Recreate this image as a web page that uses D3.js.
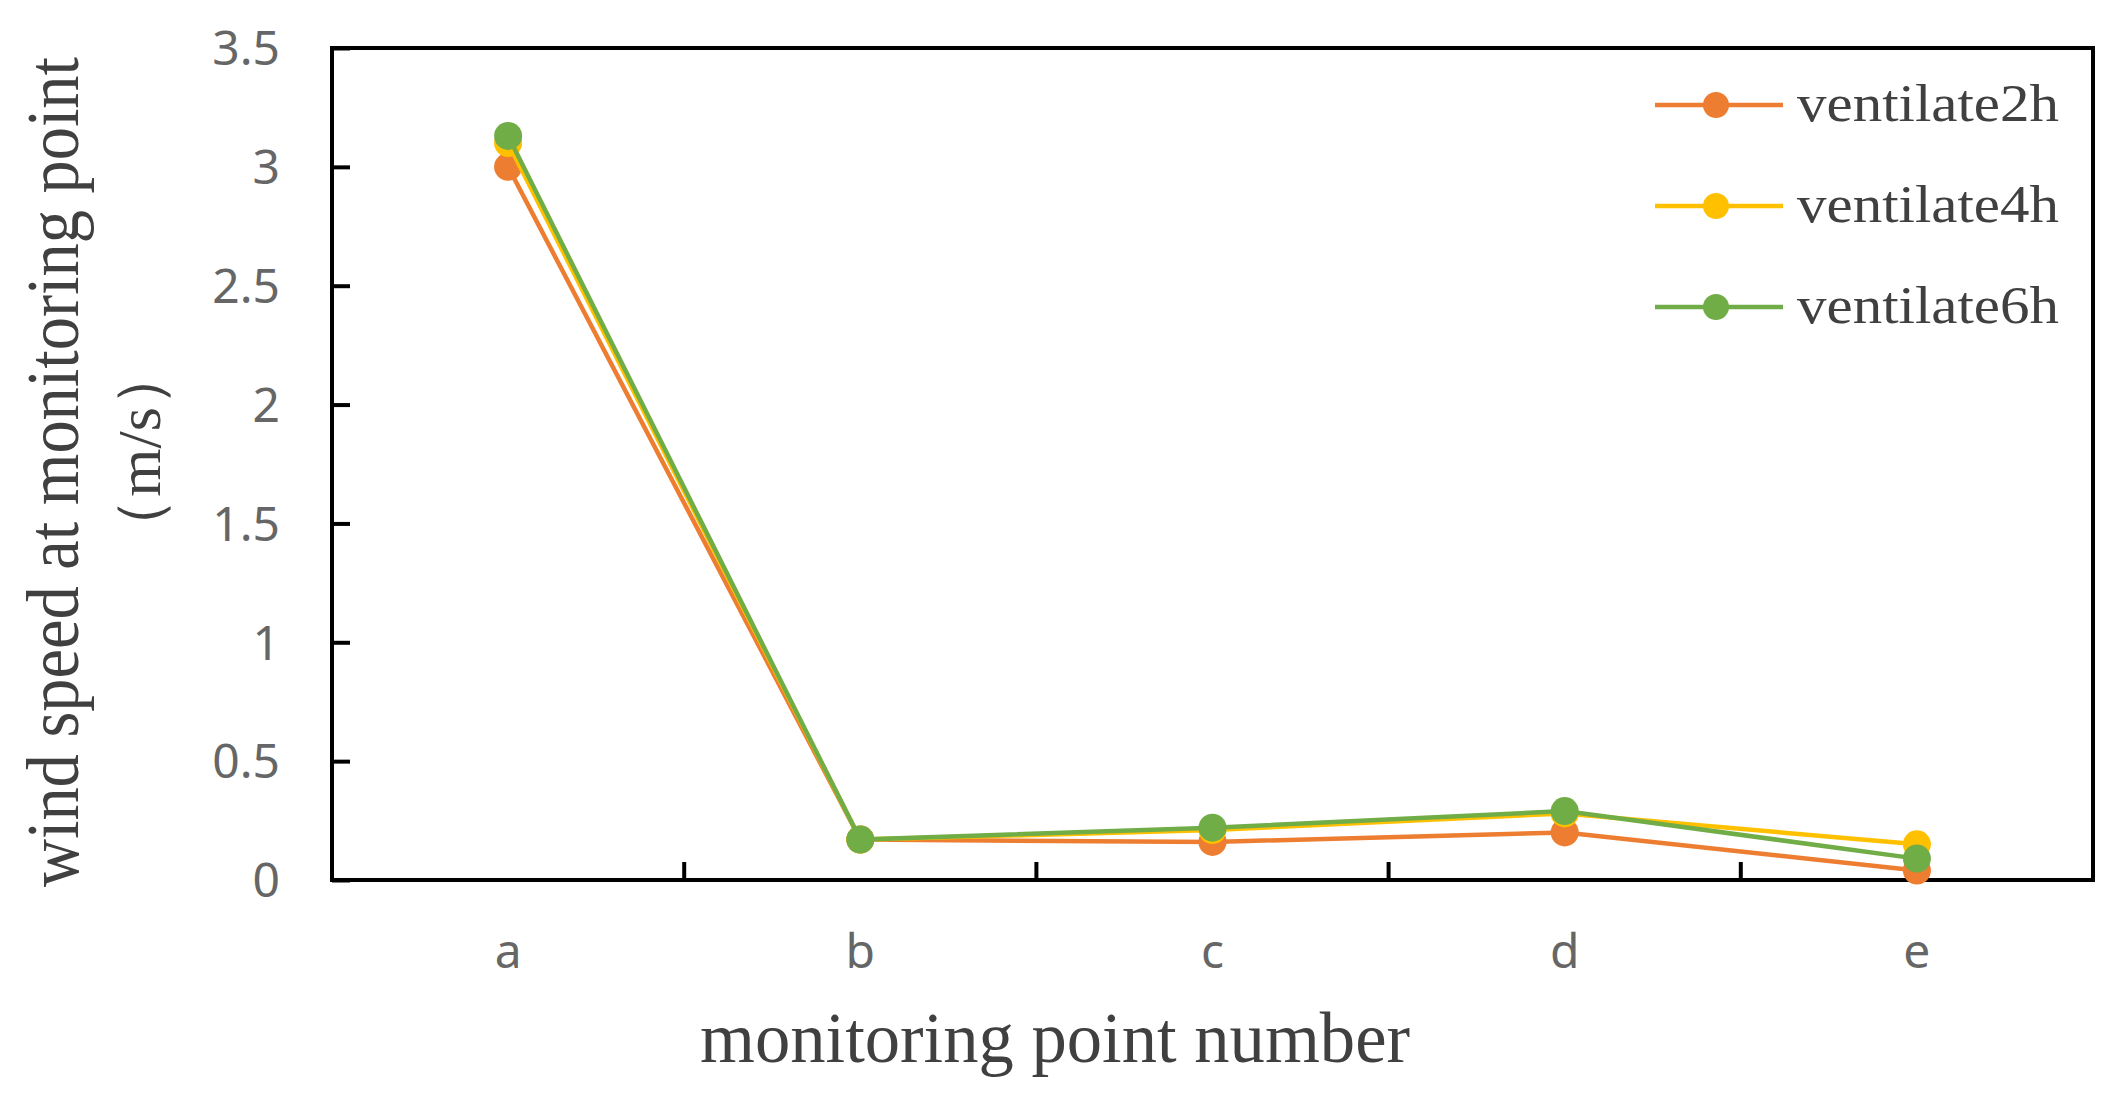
<!DOCTYPE html>
<html><head><meta charset="utf-8">
<script src="https://cdn.jsdelivr.net/npm/d3@7"></script>
<style>body{margin:0;background:#fff}</style></head>
<body><svg id="c" width="2119" height="1094"></svg>
<script>
const categories=["a","b","c","d","e"];
const seriesNames=["ventilate2h","ventilate4h","ventilate6h"];
const v2h=[3.0,0.17,0.16,0.20,0.04];
const v4h=[3.10,0.17,0.21,0.28,0.15];
const v6h=[3.13,0.17,0.22,0.29,0.09];
const yTicks=[0,0.5,1,1.5,2,2.5,3,3.5];
const colors=["#ED7D31","#FFC000","#70AD47"];
const series=[v2h,v4h,v6h];

const svg=d3.select("#c");
const L=332,R=2093,T=48,B=880;
const x=d3.scaleBand().domain(categories).range([L,R]);
const y=d3.scaleLinear().domain([0,3.5]).range([B,T]);
const tickFont="'Noto Sans','DejaVu Sans',sans-serif";

svg.append("rect").attr("x",L).attr("y",T).attr("width",R-L).attr("height",B-T)
 .attr("fill","none").attr("stroke","#000").attr("stroke-width",4);

const ya=svg.append("g").attr("transform",`translate(${L},0)`)
 .call(d3.axisRight(y).tickValues(yTicks).tickSize(18).tickFormat(d3.format("")));
ya.select(".domain").remove();
ya.selectAll("line").attr("stroke","#000").attr("stroke-width",4);
ya.selectAll("text").remove();
svg.append("g").selectAll("text").data(yTicks).join("text")
 .attr("x",280).attr("y",d=>y(d)).attr("dy","0.36em").attr("text-anchor","end")
 .attr("font-family",tickFont).attr("font-size",48).attr("fill","#666").text(d=>d3.format("")(d));

const bounds=categories.slice(1).map(c=>x(c));
svg.append("g").selectAll("line").data(bounds).join("line")
 .attr("x1",d=>d).attr("x2",d=>d).attr("y1",B).attr("y2",B-18)
 .attr("stroke","#000").attr("stroke-width",4);
svg.append("g").selectAll("text").data(categories).join("text")
 .attr("x",d=>x(d)+x.bandwidth()/2).attr("y",968).attr("text-anchor","middle")
 .attr("font-family",tickFont).attr("font-size",48).attr("fill","#666").text(d=>d);

const line=d3.line().x((d,i)=>x(categories[i])+x.bandwidth()/2).y(d=>y(d));
series.forEach((s,k)=>{
 svg.append("path").attr("d",line(s)).attr("fill","none").attr("stroke",colors[k]).attr("stroke-width",4.5);
 svg.append("g").selectAll("circle").data(s).join("circle")
  .attr("cx",(d,i)=>x(categories[i])+x.bandwidth()/2).attr("cy",d=>y(d)).attr("r",14).attr("fill",colors[k]);
});

const serif="'Liberation Serif','Times New Roman',serif";
seriesNames.forEach((n,k)=>{
 const ly=105+k*101;
 svg.append("line").attr("x1",1655).attr("x2",1783).attr("y1",ly).attr("y2",ly).attr("stroke",colors[k]).attr("stroke-width",4.5);
 svg.append("circle").attr("cx",1716).attr("cy",ly).attr("r",13).attr("fill",colors[k]);
 svg.append("text").attr("x",1797).attr("y",ly).attr("dy","0.3em").attr("font-family",serif)
  .attr("font-size",52).attr("fill","#404040").attr("textLength",262).attr("lengthAdjust","spacingAndGlyphs").text(n);
});

svg.append("text").attr("x",1055).attr("y",1062).attr("text-anchor","middle").attr("font-family",serif)
 .attr("font-size",72).attr("fill","#404040").attr("textLength",710).attr("lengthAdjust","spacingAndGlyphs").text("monitoring point number");
svg.append("text").attr("transform","translate(78,472) rotate(-90)").attr("text-anchor","middle").attr("font-family",serif)
 .attr("font-size",74).attr("fill","#404040").attr("textLength",830).attr("lengthAdjust","spacingAndGlyphs").text("wind speed at monitoring point");
svg.append("text").attr("transform","translate(160,452) rotate(-90)").attr("text-anchor","middle").attr("font-family",serif)
 .attr("font-size",62).attr("fill","#404040").text("（m/s）");
</script></body></html>
